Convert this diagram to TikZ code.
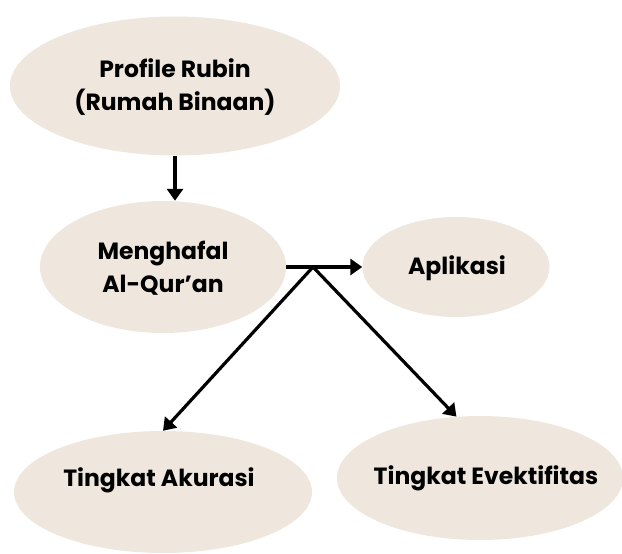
\documentclass[tikz,border=0pt]{standalone}
\usepackage{fontspec}
\setmainfont{Poppins}
\usetikzlibrary{shapes.geometric,arrows.meta}
\definecolor{beige}{HTML}{EFE7DD}
\tikzset{
  blob/.style={ellipse,fill=beige,draw=none,inner sep=0pt},
  lbl/.style={align=center,font=\fontsize{23.5}{33}\selectfont\bfseries,text=black,inner sep=0pt},
  arr/.style={line width=3.2pt,-{Triangle[length=12pt,width=16pt]}},
  seg/.style={line width=3.2pt}
}
\begin{document}
\begin{tikzpicture}[x=1pt,y=-1pt]
\useasboundingbox (0,0) rectangle (622,554);
\node[blob,minimum width=330pt,minimum height=139pt] (p1) at (175,86) {};
\node[blob,minimum width=246pt,minimum height=132pt] (m) at (163,267) {};
\node[blob,minimum width=187pt,minimum height=100pt] (a) at (456,267) {};
\node[blob,minimum width=298pt,minimum height=122pt] (t1) at (163,492) {};
\node[blob,minimum width=286pt,minimum height=124pt] (t2) at (480,478) {};
\node[lbl] (p1t) at (175,87) {Profile Rubin\\(Rumah Binaan)};
\node[lbl] (mt) at (163,268) {Menghafal\\Al-Qur’an};
\node[lbl] (at) at (457,268) {Aplikasi};
\node[lbl] (t1t) at (159,480) {Tingkat Akurasi};
\node[lbl] (t2t) at (486,478) {Tingkat Evektifitas};
\coordinate (b) at (313,267);
\draw[arr] (p1.south) -- (m.north -| p1.south);
\draw[seg] (m.east) -- (b);
\draw[arr] (b) -- (a.west);
\draw[arr] (b) -- (t1.north);
\draw[arr] (b) -- (t2.111);
\end{tikzpicture}
\end{document}
